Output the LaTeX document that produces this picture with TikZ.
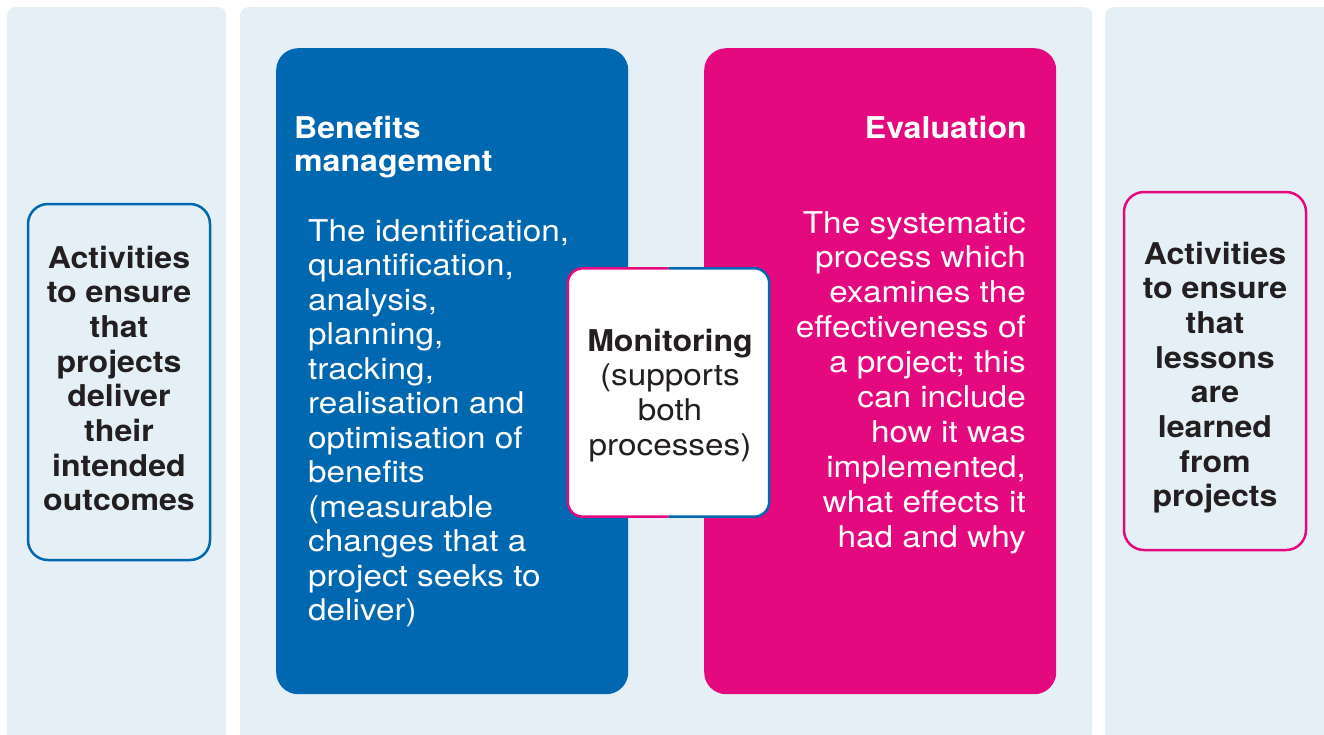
\documentclass[tikz,border=0pt]{standalone}
\usepackage{fontspec}
\setmainfont{TeX Gyre Heros}
\newfontfamily\rgf[FakeStretch=1.11]{TeX Gyre Heros}
\newfontfamily\bdf[FakeStretch=1.07]{TeX Gyre Heros}
\definecolor{bmblue}{HTML}{0067B1}
\definecolor{evpink}{HTML}{E4097E}
\definecolor{panelbg}{HTML}{E4EFF6}
\definecolor{txt}{HTML}{231F20}
\newcommand{\tlft}[1]{\begin{tabular}[t]{@{}l@{}}#1\end{tabular}}
\newcommand{\trgt}[1]{\begin{tabular}[t]{@{}r@{}}#1\end{tabular}}
\newcommand{\tctr}[1]{\begin{tabular}[t]{@{}c@{}}#1\end{tabular}}
\tikzset{
  panel/.style={fill=panelbg, rounded corners=8pt, inner sep=0pt, anchor=north west},
  bigbox/.style={rounded corners=22pt, inner sep=0pt, anchor=north west, minimum width=352pt, minimum height=646pt},
  outbox/.style={draw, line width=2.5pt, fill=panelbg, rounded corners=20pt, inner sep=0pt, minimum width=182pt},
  txtfont/.style={inner sep=0pt},
}
\begin{document}
\begin{tikzpicture}[x=1pt,y=-1pt]
\useasboundingbox[fill=white] (0,0) rectangle (1324,734);
% background panels
\node[panel, minimum width=219pt, minimum height=740pt] (lp) at (7,7) {};
\node[panel, minimum width=852pt, minimum height=740pt] (mp) at (240,7) {};
\node[panel, minimum width=230pt, minimum height=740pt] (rp) at (1105,7) {};
% big boxes
\node[bigbox, fill=bmblue] (bm) at (276,48) {};
\node[bigbox, fill=evpink] (ev) at (704,48) {};
% outcome boxes
\node[outbox, draw=bmblue, minimum height=356pt] (lo) at (119,382) {};
\node[outbox, draw=evpink, minimum height=358pt] (ro) at (1215,371) {};
% monitoring box
\node[fill=white, rounded corners=15pt, minimum width=201pt, minimum height=248pt, inner sep=0pt] (mon) at (668.5,392.5) {};
\draw[evpink, line width=2.5pt, rounded corners=15pt] (mon.north) -| (mon.west) |- (mon.south);
\draw[bmblue, line width=2.5pt, rounded corners=15pt] (mon.north) -| (mon.east) |- (mon.south);
% texts
\node[txtfont, text=white, anchor=base west, font=\bdf\bfseries\fontsize{30pt}{33pt}\selectfont] (bmt) at (294,138) {\tlft{Benefits\\management}};
\node[txtfont, text=white, anchor=base west, font=\rgf\fontsize{30pt}{34.5pt}\selectfont] (bmb) at (308,241) {\tlft{The identification,\\quantification,\\analysis,\\planning,\\tracking,\\realisation and\\optimisation of\\benefits\\(measurable\\changes that a\\project seeks to\\deliver)}};
\node[txtfont, text=white, anchor=base east, font=\bdf\bfseries\fontsize{30pt}{33pt}\selectfont] (evt) at (1027,138) {Evaluation};
\node[txtfont, text=white, anchor=base east, font=\rgf\fontsize{30pt}{34.9pt}\selectfont] (evb) at (1026,233) {\trgt{The systematic\\process which\\examines the\\effectiveness of\\a project; this\\can include\\how it was\\implemented,\\what effects it\\had and why}};
\node[txtfont, text=txt, anchor=base, font=\bdf\bfseries\fontsize{30pt}{34.7pt}\selectfont] (lot) at (119,268) {\tctr{Activities\\to ensure\\that\\projects\\deliver\\their\\intended\\outcomes}};
\node[txtfont, text=txt, anchor=base, font=\bdf\bfseries\fontsize{30pt}{34.7pt}\selectfont] (rot) at (1215,264) {\tctr{Activities\\to ensure\\that\\lessons\\are\\learned\\from\\projects}};
\node[txtfont, text=txt, anchor=base, font=\rgf\fontsize{30pt}{34.7pt}\selectfont] (mont) at (670,351) {\tctr{{\bdf\bfseries Monitoring}\\(supports\\both\\processes)}};
\end{tikzpicture}
\end{document}
